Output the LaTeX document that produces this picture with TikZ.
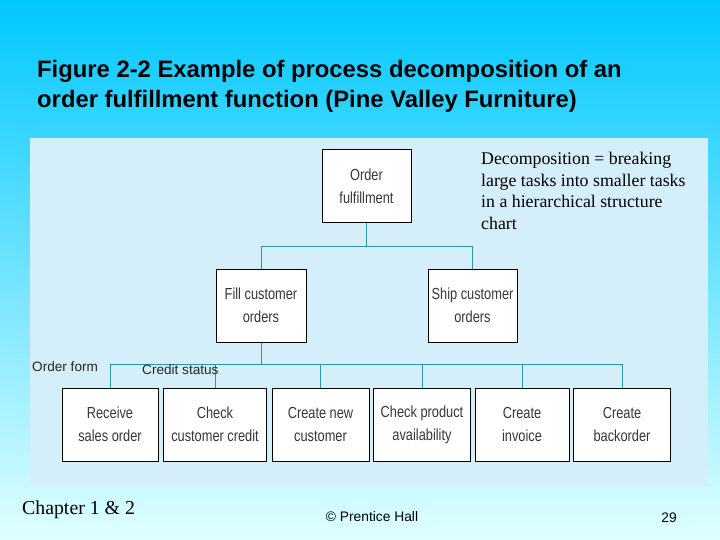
\documentclass[tikz,border=0pt]{standalone}
\usepackage{fontspec}
\setmainfont{Liberation Serif}
\newfontfamily\arial{Liberation Sans}
\newfontfamily\narrow[FakeStretch=0.8]{Liberation Sans}
\definecolor{bgtop}{RGB}{0,200,255}
\definecolor{bgbot}{RGB}{224,255,255}
\definecolor{panel}{RGB}{213,239,250}
\definecolor{conn}{RGB}{40,150,170}
\definecolor{boxtext}{RGB}{55,55,55}
\tikzset{
  procbox/.style={draw=black, line width=1pt, fill=white, minimum height=73pt,
    inner sep=1pt, align=center, font=\narrow\fontsize{16}{23}\selectfont, text=boxtext},
  link/.style={draw=conn, line width=0.9pt},
  note/.style={inner sep=0pt, anchor=base west},
}
\begin{document}
\begin{tikzpicture}[x=1pt,y=-1pt]
\useasboundingbox (0,0) rectangle (720,540);
\shade[top color=bgtop, bottom color=bgbot] (0,0) rectangle (720,540);
\fill[panel] (30,138) rectangle (708,486);
% title
\node[note, font=\arial\bfseries\fontsize{23.8}{30}\selectfont] (t1) at (37,78) {Figure 2-2 Example of process decomposition of an};
\node[note, font=\arial\bfseries\fontsize{23.8}{30}\selectfont] (t2) at (37,108) {order fulfillment function (Pine Valley Furniture)};
% top levels
\node[procbox, minimum width=89pt] (of) at (366.5,186) {Order\\fulfillment};
\node[procbox, minimum width=90pt] (fill) at (261,305.5) {Fill customer\\orders};
\node[procbox, minimum width=89pt] (ship) at (472.5,305.5) {Ship customer\\orders};
% bottom row
\node[procbox, minimum width=96pt] (n1) at (110,424.5) {Receive\\sales order};
\node[procbox, minimum width=103pt] (n2) at (215,424.5) {Check\\customer credit};
\node[procbox, minimum width=97pt] (n3) at (320.5,424.5) {Create new\\customer};
\node[procbox, minimum width=97pt] (n4) at (422,424.5) {Check product\\availability};
\node[procbox, minimum width=94pt] (n5) at (522,424.5) {Create\\invoice};
\node[procbox, minimum width=97pt] (n6) at (622,424.5) {Create\\backorder};
% connectors
\coordinate (tb) at (0,246);
\coordinate (bb) at (0,364);
\draw[link] (of.south) -- (of.south |- tb);
\draw[link] (fill.north |- tb) -- (ship.north |- tb);
\draw[link] (fill.north |- tb) -- (fill.north);
\draw[link] (ship.north |- tb) -- (ship.north);
\draw[link] (fill.south) -- (fill.south |- bb);
\draw[link] (n1.north |- bb) -- (n6.north |- bb);
\foreach \n in {n1,n2,n3,n4,n5,n6} {\draw[link] (\n.north |- bb) -- (\n.north);}
% labels
\node[note, font=\arial\fontsize{13.6}{15}\selectfont, text=black!85] (of1) at (32,371.5) {Order form};
\node[note, font=\arial\fontsize{13.6}{15}\selectfont, text=black!85] (cs) at (142,374) {Credit status};
% note
\node[note, font=\fontsize{17.8}{21.5}\selectfont, align=left, anchor=north west] (dec) at (481,152)
  {Decomposition = breaking\\large tasks into smaller tasks\\in a hierarchical structure\\chart};
% footer
\node[note, font=\fontsize{19.8}{22}\selectfont] (ch) at (22,514) {Chapter 1 \& 2};
\node[inner sep=0pt, anchor=base, font=\arial\fontsize{13.8}{15}\selectfont] (ph) at (372,521) {\textcopyright{} Prentice Hall};
\node[inner sep=0pt, anchor=base, font=\arial\fontsize{13.8}{15}\selectfont] (pg) at (669,522) {29};
\end{tikzpicture}
\end{document}
